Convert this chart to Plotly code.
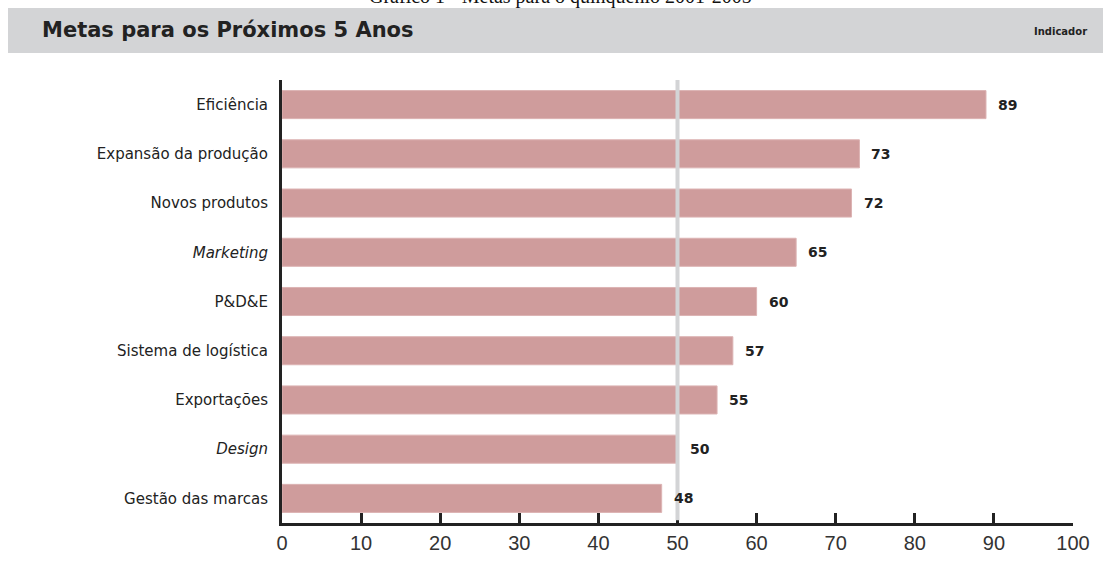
import plotly.graph_objects as go

categories = ["Eficiência", "Expansão da produção", "Novos produtos", "<i>Marketing</i>",
              "P&D&E", "Sistema de logística", "Exportações", "<i>Design</i>", "Gestão das marcas"]
values = [89, 73, 72, 65, 60, 57, 55, 50, 48]
x_ticks = [0, 10, 20, 30, 40, 50, 60, 70, 80, 90, 100]
reference_value = 50

W, H = 1109, 577
ML, MR, MT, MB = 282, 36, 80, 54
PW, PH = W - ML - MR, H - MT - MB

def px_x(p):
    return (p - ML) / PW

def px_y(p):
    return (H - MB - p) / PH

fig = go.Figure()
fig.add_trace(go.Bar(
    y=categories, x=values, orientation="h",
    marker=dict(color="#cf9c9c", line=dict(color="#dcb3b3", width=1)),
    width=0.57, hoverinfo="skip",
))

for c, v in zip(categories, values):
    fig.add_annotation(x=v, y=c, xref="x", yref="y", text=f"<b>{v}</b>",
                       showarrow=False, xanchor="left", yanchor="middle", xshift=10,
                       font=dict(family="DejaVu Sans", size=14, color="#222"))

# reference line at 50
fig.add_shape(type="line", xref="x", yref="paper", x0=reference_value, x1=reference_value,
              y0=0.006, y1=1.0, line=dict(color="#d3d4d6", width=4), layer="above")

# header band
fig.add_shape(type="rect", xref="paper", yref="paper", x0=px_x(8), x1=px_x(1103),
              y0=px_y(53), y1=px_y(8), fillcolor="#d3d4d6", line=dict(width=0), layer="below")

fig.add_annotation(xref="paper", yref="paper", x=px_x(40), y=px_y(30), xanchor="left", yanchor="middle",
                   text="<b>Metas para os Próximos 5 Anos</b>", showarrow=False,
                   font=dict(family="DejaVu Sans", size=21, color="#222"))
fig.add_annotation(xref="paper", yref="paper", x=px_x(1089), y=px_y(31), xanchor="right", yanchor="middle",
                   text="<b>Indicador</b>", showarrow=False,
                   font=dict(family="DejaVu Sans", size=10, color="#222"))
fig.add_annotation(xref="paper", yref="paper", x=px_x(560), y=px_y(10), xanchor="center", yanchor="bottom",
                   text="Gráfico 1 - Metas para o quinquênio 2001-2005", showarrow=False,
                   font=dict(family="Liberation Serif", size=20, color="#111"))

fig.update_xaxes(range=[0, 100], tickvals=x_ticks, ticks="inside", ticklen=10, tickwidth=3,
                 tickcolor="#222", showline=True, linecolor="#222", linewidth=3,
                 showgrid=False, zeroline=False,
                 tickfont=dict(family="Liberation Sans", size=20, color="#333"))
fig.update_yaxes(categoryorder="array", categoryarray=categories, autorange="reversed",
                 showline=True, linecolor="#222", linewidth=3, showgrid=False, zeroline=False,
                 ticks="", ticklabelstandoff=8,
                 tickfont=dict(family="DejaVu Sans", size=15, color="#222"))

fig.update_layout(width=W, height=H, margin=dict(l=ML, r=MR, t=MT, b=MB),
                  plot_bgcolor="white", paper_bgcolor="white", showlegend=False, bargap=0.43)

fig.write_html("out.html", config={"displayModeBar": False},
               post_script="document.body.style.margin='0';")
